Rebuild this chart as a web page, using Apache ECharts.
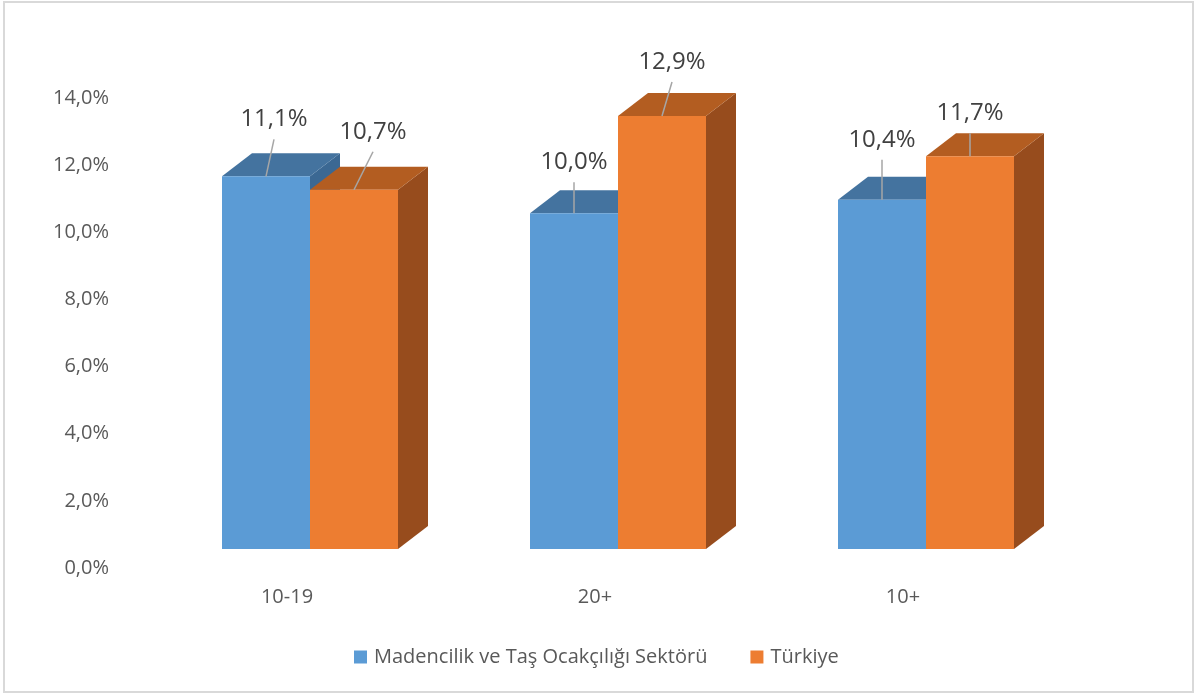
<!DOCTYPE html>
<html>
<head>
<meta charset="utf-8">
<script src="https://cdn.jsdelivr.net/npm/echarts@6/dist/echarts.min.js"></script>
<style>
  html, body { margin: 0; padding: 0; background: #fff; }
  #chart { width: 1196px; height: 695px; }
</style>
</head>
<body>
<div id="chart"></div>
<script>
// data
const categories = ['10-19', '20+', '10+'];
const madencilik = [11.1, 10.0, 10.4];
const turkiye = [10.7, 12.9, 11.7];
const seriesNames = ['Madencilik ve Taş Ocakçılığı Sektörü', 'Türkiye'];

// 3d look (pixels)
const FLOOR_SHIFT = 19;          // front face sits above the 0 line
const DEPTH = [30, -23];         // back face offset
const BAR_X = [[-65, 23], [23, 111]];  // front face x range from category center
// label offsets from the top-middle of the front face
const LABEL_POS = [
    [[8, -57], [0, -51], [0, -60]],
    [[19, -58], [10, -54], [0, -43]]
];
const COLORS = [
    { front: '#5B9BD5', top: '#44739F', side: '#3B6893' },
    { front: '#ED7D31', top: '#B35D21', side: '#974C1D' }
];

function fmt(v) {
    return v.toFixed(1).replace('.', ',') + '%';
}

function makeRender(s) {
    return function (params, api) {
        const i = api.value(0);
        const v = api.value(1);
        const base = api.coord([i, 0]);
        const top = api.coord([i, v]);
        const x0 = base[0] + BAR_X[s][0];
        const x1 = base[0] + BAR_X[s][1];
        const yb = base[1] - FLOOR_SHIFT;
        const yt = top[1] - FLOOR_SHIFT;
        const dx = DEPTH[0], dy = DEPTH[1];
        const c = COLORS[s];
        const cx = (x0 + x1) / 2;
        const lp = LABEL_POS[s][i];
        const lx = cx + lp[0];
        const ly = yt + lp[1];
        return {
            type: 'group',
            children: [
                {
                    type: 'polygon',
                    shape: { points: [[x1, yt], [x1 + dx, yt + dy], [x1 + dx, yb + dy], [x1, yb]] },
                    style: { fill: c.side }
                },
                {
                    type: 'polygon',
                    shape: { points: [[x0, yt], [x1, yt], [x1 + dx, yt + dy], [x0 + dx, yt + dy]] },
                    style: { fill: c.top }
                },
                {
                    type: 'rect',
                    shape: { x: x0, y: yt, width: x1 - x0, height: yb - yt },
                    style: { fill: c.front }
                },
                {
                    type: 'line',
                    shape: { x1: cx, y1: yt, x2: lx, y2: ly + 20 },
                    style: { stroke: '#A6A6A6', lineWidth: 1.5 }
                },
                {
                    type: 'text',
                    style: {
                        text: fmt(v),
                        x: lx,
                        y: ly,
                        align: 'center',
                        verticalAlign: 'middle',
                        fill: '#404040',
                        font: '24px "Open Sans"'
                    }
                }
            ]
        };
    };
}

const chart = echarts.init(document.getElementById('chart'));

chart.setOption({
    animation: false,
    backgroundColor: '#fff',
    textStyle: { fontFamily: 'Open Sans' },
    graphic: [{
        type: 'rect',
        shape: { x: 4, y: 2, width: 1189, height: 690 },
        style: { fill: 'none', stroke: '#D9D9D9', lineWidth: 2 },
        silent: true
    }],
    grid: {
        left: 133,
        right: 139,
        top: 98,
        bottom: 127,
        containLabel: false,
        outerBoundsMode: 'none'
    },
    legend: {
        left: 354,
        top: 647,
        padding: 0,
        icon: 'rect',
        itemWidth: 13,
        itemHeight: 13,
        itemGap: 43,
        textStyle: { fontSize: 20, color: '#595959', fontFamily: 'Open Sans', padding: [0, 0, 0, 2] },
        data: seriesNames
    },
    xAxis: {
        type: 'category',
        data: categories,
        axisLine: { show: false },
        axisTick: { show: false },
        axisLabel: { fontSize: 20, color: '#595959', margin: 19 }
    },
    yAxis: {
        type: 'value',
        min: 0,
        max: 14,
        interval: 2,
        splitLine: { show: false },
        axisLine: { show: false },
        axisTick: { show: false },
        axisLabel: { fontSize: 20, color: '#595959', margin: 24, formatter: fmt }
    },
    series: [
        {
            name: seriesNames[0],
            type: 'custom',
            clip: false,
            itemStyle: { color: COLORS[0].front },
            renderItem: makeRender(0),
            data: madencilik.map((v, i) => [i, v])
        },
        {
            name: seriesNames[1],
            type: 'custom',
            clip: false,
            itemStyle: { color: COLORS[1].front },
            renderItem: makeRender(1),
            data: turkiye.map((v, i) => [i, v])
        }
    ]
});
</script>
</body>
</html>
